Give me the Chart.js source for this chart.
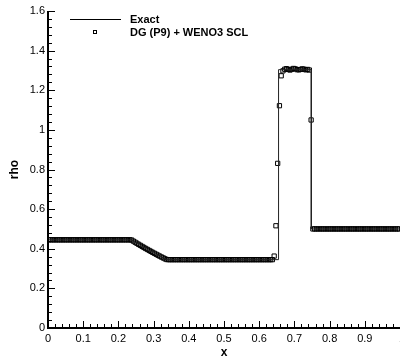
<!DOCTYPE html>
<html>
<head>
  <meta http-equiv="content-type" content="text/html; charset=utf-8"/>
  <script src="https://cdn.jsdelivr.net/npm/chart.js@4/dist/chart.umd.min.js"></script>
  <style>
    html, body { margin: 0; padding: 0; background: #fff; }
    #wrap { width: 400px; height: 357px; }
  </style>
</head>
<body>
<div id="wrap"><canvas id="chart" width="400" height="357"></canvas></div>

<script>
    // exact solution: left state, rarefaction fan, contact, shock, right state
    const exactX = [0, 0.237, 0.25, 0.26, 0.27, 0.28, 0.29, 0.30, 0.31, 0.32, 0.338, 0.655, 0.655, 0.748, 0.748, 1];
    const exactRho = [0.445, 0.445, 0.4303, 0.4196, 0.409, 0.3987, 0.3887, 0.3788, 0.3691, 0.3597, 0.345, 0.345, 1.304, 1.304, 0.5, 0.5];

    // DG (P9) + WENO3 SCL, cell averages on 200 uniform cells
    const numRho = [
        0.445, 0.445, 0.445, 0.445, 0.445, 0.445, 0.445, 0.445, 0.445, 0.445,
        0.445, 0.445, 0.445, 0.445, 0.445, 0.445, 0.445, 0.445, 0.445, 0.445,
        0.445, 0.445, 0.445, 0.445, 0.445, 0.445, 0.445, 0.445, 0.445, 0.445,
        0.445, 0.445, 0.445, 0.445, 0.445, 0.445, 0.445, 0.445, 0.445, 0.445,
        0.445, 0.445, 0.445, 0.445, 0.445, 0.445, 0.445, 0.444, 0.4385, 0.433,
        0.4276, 0.4222, 0.4169, 0.4117, 0.4065, 0.4014, 0.3964, 0.3914, 0.3865, 0.3816,
        0.3768, 0.3721, 0.3673, 0.3627, 0.3581, 0.3536, 0.3491, 0.3455, 0.345, 0.345,
        0.345, 0.345, 0.345, 0.345, 0.345, 0.345, 0.345, 0.345, 0.345, 0.345,
        0.345, 0.345, 0.345, 0.345, 0.345, 0.345, 0.345, 0.345, 0.345, 0.345,
        0.345, 0.345, 0.345, 0.345, 0.345, 0.345, 0.345, 0.345, 0.345, 0.345,
        0.345, 0.345, 0.345, 0.345, 0.345, 0.345, 0.345, 0.345, 0.345, 0.345,
        0.345, 0.345, 0.345, 0.345, 0.345, 0.345, 0.345, 0.345, 0.345, 0.345,
        0.345, 0.345, 0.345, 0.345, 0.345, 0.345, 0.345, 0.345, 0.363, 0.516,
        0.831, 1.122, 1.273, 1.298, 1.306, 1.309, 1.305, 1.302, 1.306, 1.310,
        1.308, 1.304, 1.303, 1.305, 1.308, 1.306, 1.303, 1.305, 1.302, 1.05,
        0.5, 0.5, 0.5, 0.5, 0.5, 0.5, 0.5, 0.5, 0.5, 0.5,
        0.5, 0.5, 0.5, 0.5, 0.5, 0.5, 0.5, 0.5, 0.5, 0.5,
        0.5, 0.5, 0.5, 0.5, 0.5, 0.5, 0.5, 0.5, 0.5, 0.5,
        0.5, 0.5, 0.5, 0.5, 0.5, 0.5, 0.5, 0.5, 0.5, 0.5,
        0.5, 0.5, 0.5, 0.5, 0.5, 0.5, 0.5, 0.5, 0.5, 0.5
    ];

    const xTicks = [0, 0.1, 0.2, 0.3, 0.4, 0.5, 0.6, 0.7, 0.8, 0.9, 1];
    const xTickLabels = ['0', '0.1', '0.2', '0.3', '0.4', '0.5', '0.6', '0.7', '0.8', '0.9', '1'];
    const yTicks = [0, 0.2, 0.4, 0.6, 0.8, 1, 1.2, 1.4, 1.6];
    const yTickLabels = ['0', '0.2', '0.4', '0.6', '0.8', '1', '1.2', '1.4', '1.6'];

    const seriesNames = ['Exact', 'DG (P9) + WENO3 SCL'];

    const FONT = "'Liberation Sans', Arial, Helvetica, sans-serif";

    // cell centres of the uniform mesh
    const numX = numRho.map((_, i) => (i + 0.5) / numRho.length);

    // tecplot-style axes: thick lines with inward major and minor ticks
    const axesPlugin = {
        id: 'axes',
        afterDatasetsDraw(chart) {
            const ctx = chart.ctx;
            const area = chart.chartArea;
            const xs = chart.scales.x, ys = chart.scales.y;
            ctx.save();
            ctx.strokeStyle = '#000';
            ctx.lineWidth = 1;
            ctx.beginPath();
            for (let i = 0; i <= 50; i++) {
                const px = Math.round(xs.getPixelForValue(i * 0.02)) + 0.5;
                const len = i % 5 === 0 ? 7 : 4;
                ctx.moveTo(px, area.bottom);
                ctx.lineTo(px, area.bottom - len);
            }
            for (let i = 0; i <= 40; i++) {
                const py = Math.round(ys.getPixelForValue(i * 0.04)) + 0.5;
                const len = i % 5 === 0 ? 7 : 4;
                ctx.moveTo(area.left, py);
                ctx.lineTo(area.left + len, py);
            }
            ctx.stroke();
            ctx.lineWidth = 2;
            ctx.beginPath();
            ctx.moveTo(area.left, area.top);
            ctx.lineTo(area.left, area.bottom);
            ctx.lineTo(area.right, area.bottom);
            ctx.stroke();
            // the last x label sits on the right edge of the canvas, only its left sliver shows
            ctx.fillStyle = '#000';
            ctx.font = '11px ' + FONT;
            ctx.textAlign = 'center';
            ctx.textBaseline = 'top';
            ctx.fillText(xTickLabels[xTickLabels.length - 1], xs.getPixelForValue(1) + 2, area.bottom + 5);
            ctx.restore();
        }
    };

    // legend in the upper left corner of the plot
    const legendPlugin = {
        id: 'legendBox',
        afterDraw(chart) {
            const ctx = chart.ctx;
            ctx.save();
            ctx.strokeStyle = '#000';
            ctx.lineWidth = 1;
            ctx.beginPath();
            ctx.moveTo(70, 19.5);
            ctx.lineTo(121, 19.5);
            ctx.stroke();
            ctx.strokeRect(93.5, 30.5, 3, 3);
            ctx.fillStyle = '#000';
            ctx.font = 'bold 11px ' + FONT;
            ctx.textBaseline = 'middle';
            ctx.fillText(seriesNames[0], 130, 20);
            ctx.fillText(seriesNames[1], 130, 32.5);
            ctx.restore();
        }
    };

    new Chart(document.getElementById('chart'), {
        type: 'scatter',
        data: {
            datasets: [{
                label: seriesNames[0],
                data: exactX.map((x, i) => ({x: x, y: exactRho[i]})),
                showLine: true,
                borderColor: '#222',
                borderWidth: 1,
                pointRadius: 0,
                tension: 0
            }, {
                label: seriesNames[1],
                data: numX.map((x, i) => ({x: x, y: numRho[i]})),
                showLine: false,
                pointStyle: 'rect',
                pointRadius: 3,
                borderColor: '#000',
                borderWidth: 1,
                backgroundColor: 'rgba(0,0,0,0)'
            }]
        },
        options: {
            responsive: false,
            animation: false,
            layout: {autoPadding: false, padding: {top: 11, right: -1, left: 0, bottom: 0}},
            plugins: {legend: {display: false}, tooltip: {enabled: false}},
            scales: {
                x: {
                    type: 'linear', min: 0, max: 1,
                    // tick marks come from the axes plugin; tickLength only spaces the labels
                    grid: {display: false, drawTicks: true, tickLength: 4},
                    border: {display: false},
                    afterBuildTicks: s => { s.ticks = xTicks.map(v => ({value: v})); },
                    afterFit: s => { s.height = 29; },
                    ticks: {
                        padding: 0, color: '#000', maxRotation: 0,
                        font: {family: FONT, size: 11},
                        // last label is drawn by the axes plugin, clipped by the canvas edge
                        callback: (v, i) => i < xTickLabels.length - 1 ? xTickLabels[i] : ''
                    },
                    title: {display: true, text: 'x', color: '#000', padding: {top: 0, bottom: -3},
                            font: {family: FONT, size: 12, weight: 'bold'}}
                },
                y: {
                    type: 'linear', min: 0, max: 1.6,
                    grid: {display: false, drawTicks: false},
                    border: {display: false},
                    afterBuildTicks: s => { s.ticks = yTicks.map(v => ({value: v})); },
                    afterFit: s => { s.width = 48; },
                    ticks: {
                        padding: 3, color: '#000',
                        font: {family: FONT, size: 11},
                        callback: (v, i) => yTickLabels[i]
                    },
                    title: {display: true, text: 'rho', color: '#000', padding: {top: 7, bottom: 0},
                            font: {family: FONT, size: 12, weight: 'bold'}}
                }
            }
        },
        plugins: [axesPlugin, legendPlugin]
    });
</script>
</body>
</html>
